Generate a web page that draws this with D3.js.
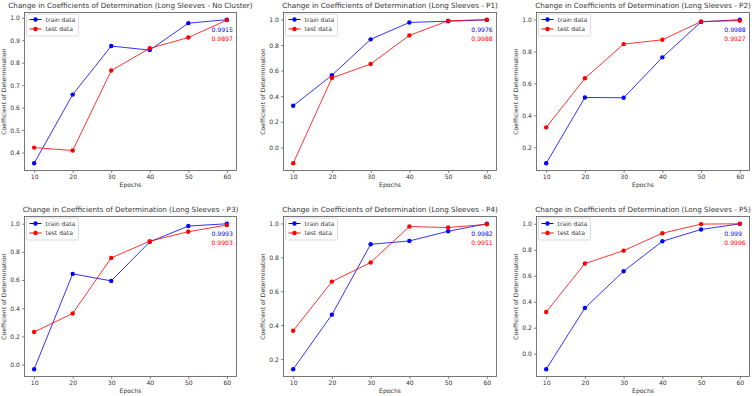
<!DOCTYPE html>
<html>
<head>
<meta charset="utf-8">
<script src="https://cdn.jsdelivr.net/npm/d3@7"></script>
<style>
  html, body { margin: 0; padding: 0; background: #fff; }
  svg { display: block; font-family: "DejaVu Sans", sans-serif; }
</style>
</head>
<body>
<svg id="chart" width="752" height="396"></svg>
<script>
// ---------------------------------------------------------
// DATA
// ---------------------------------------------------------
const epochs = [10, 20, 30, 40, 50, 60];

const panelTitles = [
  "Change in Coefficients of Determination (Long Sleeves - No Cluster)",
  "Change in Coefficients of Determination (Long Sleeves - P1)",
  "Change in Coefficients of Determination (Long Sleeves - P2)",
  "Change in Coefficients of Determination (Long Sleeves - P3)",
  "Change in Coefficients of Determination (Long Sleeves - P4)",
  "Change in Coefficients of Determination (Long Sleeves - P5)"
];

const trainSeries = [
  [0.352, 0.658, 0.874, 0.856, 0.976, 0.9915],
  [0.325, 0.564, 0.845, 0.977, 0.987, 0.9976],
  [0.100, 0.512, 0.510, 0.763, 0.985, 0.9988],
  [-0.033, 0.644, 0.594, 0.871, 0.983, 0.9993],
  [0.140, 0.462, 0.877, 0.897, 0.954, 0.9982],
  [-0.119, 0.352, 0.635, 0.865, 0.956, 0.999]
];

const testSeries = [
  [0.422, 0.409, 0.765, 0.864, 0.912, 0.9897],
  [-0.125, 0.543, 0.652, 0.876, 0.990, 0.9988],
  [0.325, 0.632, 0.846, 0.873, 0.987, 0.9927],
  [0.231, 0.363, 0.757, 0.876, 0.943, 0.9903],
  [0.367, 0.657, 0.770, 0.982, 0.976, 0.9951],
  [0.321, 0.694, 0.793, 0.927, 0.997, 0.9996]
];

const yTickValues = [
  [0.4, 0.5, 0.6, 0.7, 0.8, 0.9, 1.0],
  [0.0, 0.2, 0.4, 0.6, 0.8, 1.0],
  [0.2, 0.4, 0.6, 0.8, 1.0],
  [0.0, 0.2, 0.4, 0.6, 0.8, 1.0],
  [0.2, 0.4, 0.6, 0.8, 1.0],
  [0.0, 0.2, 0.4, 0.6, 0.8, 1.0]
];

const legendLabels = ["train data", "test data"];
const annotationX = 56;   // final-value labels sit at this epoch

// ---------------------------------------------------------
// LAYOUT
// ---------------------------------------------------------
const colLeft  = [24.5, 283.5, 536.5];
const colRight = [236.5, 496.5, 749.5];
const rowTop   = [12.5, 216.5];
const rowBot   = [170.5, 376.5];

const BLUE = "#0000ff";
const RED  = "#ff0000";
const FRAME = "#555";
const TEXT = "#333";
const FS = 6.1;

const svg = d3.select("#chart");

panelTitles.forEach((title, i) => {
  const col = i % 3, row = Math.floor(i / 3);
  const x0 = colLeft[col], x1 = colRight[col];
  const y0 = rowTop[row], y1 = rowBot[row];

  const train = trainSeries[i], test = testSeries[i];

  // matplotlib-style 5% margins
  const all = train.concat(test);
  const [lo, hi] = d3.extent(all);
  const pad = (hi - lo) * 0.05;

  const x = d3.scaleLinear().domain([7.5, 62.5]).range([x0, x1]);
  const y = d3.scaleLinear().domain([lo - pad, hi + pad]).range([y1, y0]);

  const g = svg.append("g");

  // axes
  const xAxis = g.append("g")
    .attr("transform", `translate(0,${y1})`)
    .call(d3.axisBottom(x).tickValues(epochs).tickSize(2.5).tickPadding(2).tickFormat(d3.format("d")));
  const yAxis = g.append("g")
    .attr("transform", `translate(${x0},0)`)
    .call(d3.axisLeft(y).tickValues(yTickValues[i]).tickSize(2.5).tickPadding(2).tickFormat(d3.format(".1f")));

  [xAxis, yAxis].forEach(a => {
    a.select(".domain").remove();
    a.selectAll("line").attr("stroke", FRAME).attr("stroke-width", 0.7);
    a.selectAll("text").attr("fill", TEXT).style("font-size", FS + "px")
      .style("font-family", "DejaVu Sans, sans-serif");
  });

  // frame
  g.append("rect")
    .attr("x", x0).attr("y", y0)
    .attr("width", x1 - x0).attr("height", y1 - y0)
    .attr("fill", "none").attr("stroke", FRAME).attr("stroke-width", 0.8);

  // series
  const line = d3.line().x((d, k) => x(epochs[k])).y(d => y(d));
  [[train, BLUE], [test, RED]].forEach(([vals, c]) => {
    g.append("path")
      .attr("d", line(vals))
      .attr("fill", "none")
      .attr("stroke", c)
      .attr("stroke-opacity", 0.8)
      .attr("stroke-width", 1);
    g.selectAll(null).data(vals).enter().append("circle")
      .attr("cx", (d, k) => x(epochs[k]))
      .attr("cy", d => y(d))
      .attr("r", 2.2)
      .attr("fill", c);
  });

  // final values
  const ay = y(train[train.length - 1]) + 12.5;
  g.append("text")
    .attr("x", x(annotationX)).attr("y", ay)
    .attr("fill", BLUE).style("font-size", FS + "px")
    .text(String(train[train.length - 1]));
  g.append("text")
    .attr("x", x(annotationX)).attr("y", ay + 8.5)
    .attr("fill", RED).style("font-size", FS + "px")
    .text(String(test[test.length - 1]));

  // title
  g.append("text")
    .attr("x", (x0 + x1) / 2).attr("y", y0 - 4.5)
    .attr("text-anchor", "middle")
    .attr("fill", TEXT)
    .style("font-size", "7.2px")
    .text(title);

  // axis labels
  g.append("text")
    .attr("x", (x0 + x1) / 2).attr("y", y1 + 16)
    .attr("text-anchor", "middle")
    .attr("fill", TEXT)
    .style("font-size", FS + "px")
    .text("Epochs");
  g.append("text")
    .attr("transform", `translate(${x0 - 18.5},${(y0 + y1) / 2}) rotate(-90)`)
    .attr("text-anchor", "middle")
    .attr("fill", TEXT)
    .style("font-size", FS + "px")
    .text("Coefficient of Determination");

  // legend
  const lg = g.append("g").attr("transform", `translate(${x0 + 2},${y0 + 1.5})`);
  lg.append("rect")
    .attr("width", 52).attr("height", 22)
    .attr("rx", 1.5)
    .attr("fill", "#fff").attr("fill-opacity", 0.85)
    .attr("stroke", "#ccc").attr("stroke-width", 0.7);
  legendLabels.forEach((lab, k) => {
    const c = k === 0 ? BLUE : RED;
    const ly = 5.5 + k * 9.5;
    lg.append("line")
      .attr("x1", 3).attr("x2", 15).attr("y1", ly).attr("y2", ly)
      .attr("stroke", c).attr("stroke-width", 1);
    lg.append("circle").attr("cx", 9).attr("cy", ly).attr("r", 2.2).attr("fill", c);
    lg.append("text")
      .attr("x", 19).attr("y", ly).attr("dy", "0.35em")
      .attr("fill", TEXT)
      .style("font-size", FS + "px")
      .text(lab);
  });
});
</script>
</body>
</html>
